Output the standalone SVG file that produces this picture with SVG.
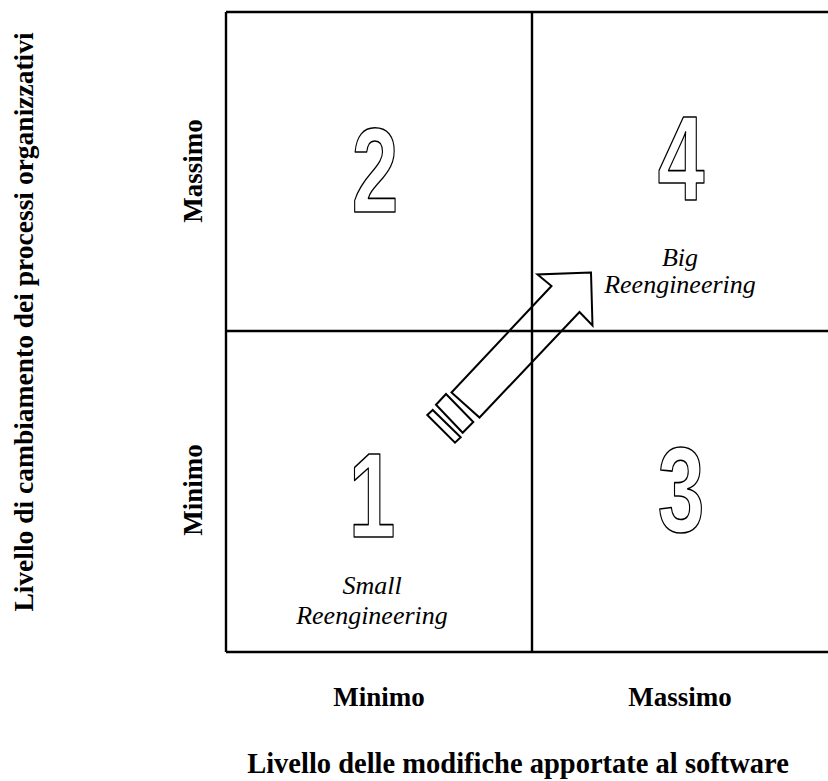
<svg xmlns="http://www.w3.org/2000/svg" width="828" height="781" viewBox="0 0 828 781">
  <style>
    .grid { stroke: #000; stroke-width: 2.4; fill: none; }
    .axis { font-family: "Liberation Serif", "Times New Roman", serif; font-weight: bold; font-size: 27px; fill: #000; text-anchor: middle; }
    .note { font-family: "Liberation Serif", "Times New Roman", serif; font-style: italic; font-size: 26px; fill: #000; text-anchor: middle; }
    .digit { font-family: "Liberation Sans", Arial, sans-serif; font-weight: bold; font-size: 120px; fill: #fff; stroke: #000; stroke-width: 1.6; stroke-linejoin: round; text-anchor: middle; }
    .arrow { fill: none; stroke: #000; stroke-width: 2; stroke-linejoin: miter; }
  </style>

  <!-- quadrant grid -->
  <g id="grid" class="grid">
    <path d="M226,12 H828"/>
    <path d="M226,12 V652"/>
    <path d="M532,12 V652"/>
    <path d="M226,331 H828"/>
    <path d="M226,652 H828"/>
  </g>

  <!-- axis titles and scale labels -->
  <g id="y-axis">
    <text class="axis" transform="translate(33,322) rotate(-90)" style="font-size:27.5px">Livello di cambiamento dei processi organizzativi</text>
    <text class="axis" transform="translate(202,171) rotate(-90)">Massimo</text>
    <text class="axis" transform="translate(202,490) rotate(-90)">Minimo</text>
  </g>
  <g id="x-axis">
    <text class="axis" x="379" y="706">Minimo</text>
    <text class="axis" x="680" y="706">Massimo</text>
    <text class="axis" x="518" y="773" style="font-size:28.5px">Livello delle modifiche apportate al software</text>
  </g>

  <!-- quadrants -->
  <g id="quadrant-1">
    <text class="digit" transform="translate(372,537) scale(0.7,1)">1</text>
    <text class="note" x="372" y="594">Small</text>
    <text class="note" x="372" y="624">Reengineering</text>
  </g>
  <g id="quadrant-2">
    <text class="digit" transform="translate(375,212) scale(0.7,1)">2</text>
  </g>
  <g id="quadrant-3">
    <text class="digit" transform="translate(681,532) scale(0.7,1)">3</text>
  </g>
  <g id="quadrant-4">
    <text class="digit" transform="translate(681,200) scale(0.7,1)">4</text>
    <text class="note" x="680" y="266">Big</text>
    <text class="note" x="680" y="293">Reengineering</text>
  </g>

  <!-- transition arrow from quadrant 1 to quadrant 4 -->
  <g id="connectors" class="arrow">
    <polygon points="591,272.5 537.5,274.5 551.5,286 451.5,392.5 479.5,417.5 579.5,312 592.5,325.5"/>
    <polygon points="446,394 436,404.7 462.7,432.7 473.3,422"/>
    <polygon points="432.7,410 427.3,415 455,442.7 460.7,437.3"/>
  </g>
</svg>
